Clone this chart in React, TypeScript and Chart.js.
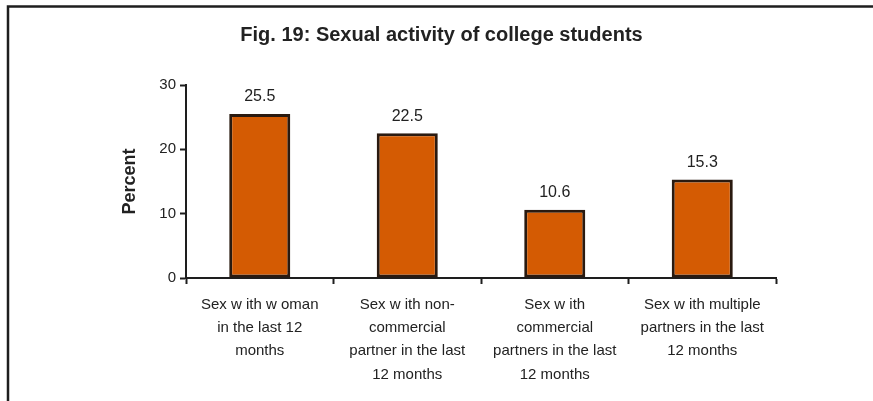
import React, { useEffect, useRef } from "react";
import { Chart, registerables } from "chart.js";

Chart.register(...registerables);

const TITLE = "Fig. 19: Sexual activity of college students";
const Y_TITLE = "Percent";
const CATEGORIES: string[][] = [
  ["Sex w ith w oman", "in the last 12", "months"],
  ["Sex w ith non-", "commercial", "partner in the last", "12 months"],
  ["Sex w ith", "commercial", "partners in the last", "12 months"],
  ["Sex w ith multiple", "partners in the last", "12 months"],
];
const VALUES = [25.5, 22.5, 10.6, 15.3];
const Y_MIN = 0;
const Y_MAX = 30;
const Y_STEP = 10;

const FONT = "'Liberation Sans', Arial, Helvetica, sans-serif";
const TEXT = "#222222";
const BAR_FILL = "#D45B03";
const BAR_EDGE = "#2a1a10";

export default function App() {
  const ref = useRef<HTMLCanvasElement | null>(null);

  useEffect(() => {
    if (!ref.current) return;

    const framePlugin = {
      id: "frame",
      beforeDraw(chart: any) {
        const ctx = chart.ctx;
        ctx.save();
        ctx.fillStyle = "#ffffff";
        ctx.fillRect(0, 0, chart.width, chart.height);
        ctx.strokeStyle = "#1e1e1e";
        ctx.lineWidth = 2.5;
        ctx.beginPath();
        ctx.moveTo(8, chart.height);
        ctx.lineTo(8, 6.5);
        ctx.lineTo(chart.width, 6.5);
        ctx.stroke();
        ctx.fillStyle = TEXT;
        ctx.font = `bold 20px ${FONT}`;
        ctx.textAlign = "center";
        ctx.textBaseline = "alphabetic";
        ctx.fillText(TITLE, 441.5, 41);
        ctx.restore();
      },
      afterDatasetsDraw(chart: any) {
        const ctx = chart.ctx;
        const meta = chart.getDatasetMeta(0);
        ctx.save();
        ctx.fillStyle = TEXT;
        ctx.font = `16px ${FONT}`;
        ctx.textAlign = "center";
        ctx.textBaseline = "alphabetic";
        meta.data.forEach((bar: any, i: number) => {
          ctx.fillText(String(VALUES[i]), bar.x, bar.y - 12.5);
        });
        ctx.restore();
      },
    };

    const chart = new Chart(ref.current, {
      type: "bar",
      data: {
        labels: CATEGORIES,
        datasets: [
          {
            data: VALUES,
            backgroundColor: BAR_FILL,
            borderColor: BAR_EDGE,
            borderWidth: 3,
            borderSkipped: false,
            categoryPercentage: 1,
            barPercentage: 0.414,
          },
        ],
      },
      options: {
        responsive: false,
        animation: false,
        layout: { padding: { left: 119, top: 85, right: 97, bottom: 0 } },
        plugins: {
          legend: { display: false },
          title: { display: false },
          tooltip: { enabled: false },
        },
        scales: {
          x: {
            offset: true,
            grid: {
              display: true,
              offset: true,
              drawOnChartArea: false,
              drawTicks: true,
              tickLength: 6,
              tickWidth: 2,
              tickColor: "#1e1e1e",
            },
            border: { display: true, color: "#1e1e1e", width: 2 },
            ticks: {
              color: TEXT,
              font: { family: FONT, size: 15, lineHeight: 1.55 },
              padding: 9,
              maxRotation: 0,
              minRotation: 0,
              autoSkip: false,
            },
            afterFit(scale: any) {
              scale.height = 401 - 278;
            },
          },
          y: {
            min: Y_MIN,
            max: Y_MAX,
            ticks: {
              stepSize: Y_STEP,
              color: TEXT,
              font: { family: FONT, size: 15 },
              padding: 4,
            },
            grid: {
              display: true,
              drawOnChartArea: false,
              drawTicks: true,
              tickLength: 6,
              tickWidth: 2,
              tickColor: "#1e1e1e",
            },
            border: { display: true, color: "#1e1e1e", width: 2 },
            title: {
              display: true,
              text: Y_TITLE,
              color: TEXT,
              font: { family: FONT, size: 18, weight: "bold" },
              padding: { top: 0, bottom: 0 },
            },
            afterFit(scale: any) {
              scale.width = 186 - 119;
            },
          },
        },
      },
      plugins: [framePlugin],
    });

    return () => chart.destroy();
  }, []);

  return (
    <div style={{ position: "fixed", left: 0, top: 0, width: 873, height: 401 }}>
      <canvas ref={ref} width={873} height={401} style={{ display: "block" }} />
    </div>
  );
}
